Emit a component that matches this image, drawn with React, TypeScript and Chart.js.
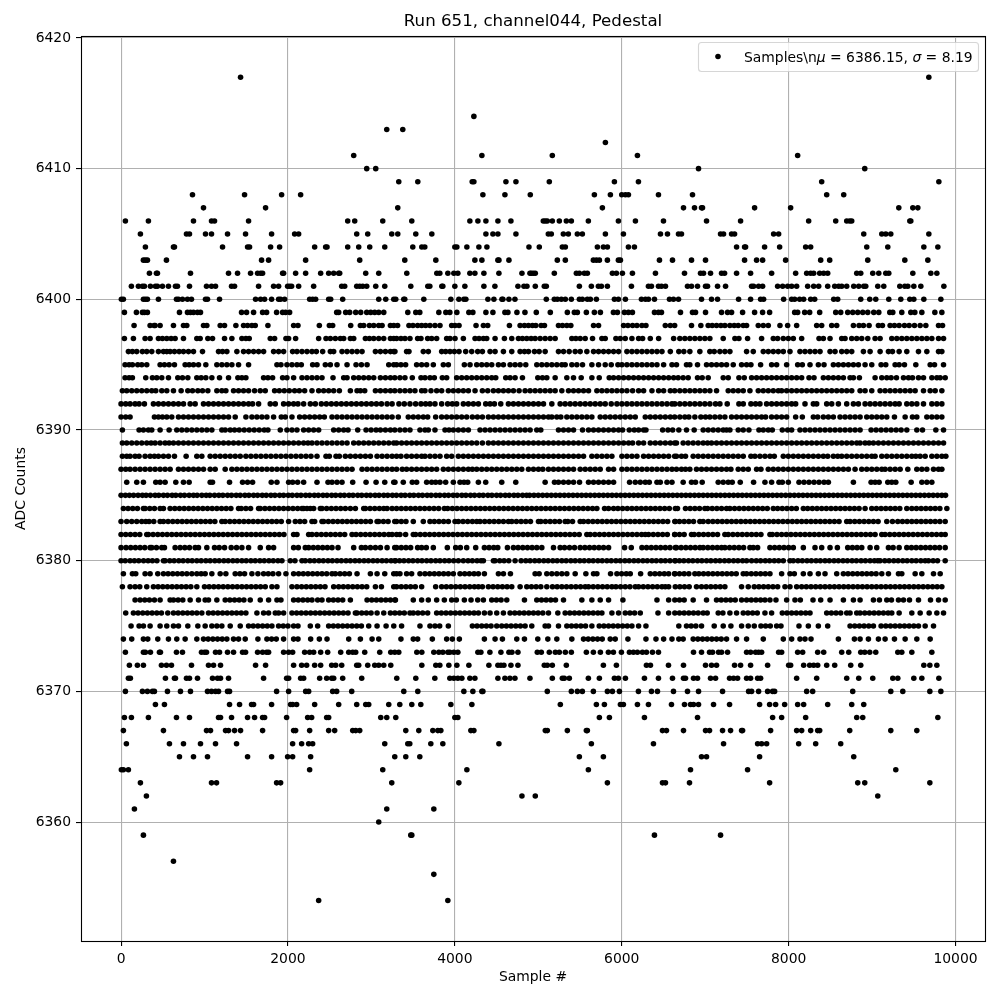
import React, { useEffect, useRef } from "react";
import { Chart, registerables } from "chart.js";

Chart.register(...registerables);

const titleText = "Run 651, channel044, Pedestal";
const xAxisLabel = "Sample #";
const yAxisLabel = "ADC Counts";
const seriesName = "Samples\\n";
const legendMean = " = 6386.15, ";
const legendSigma = " = 8.19";
const xTickValues = [0, 2000, 4000, 6000, 8000, 10000];

// Sample numbers, one list per ADC level. Where dots overlap
// into a solid stretch, individual samples cannot be resolved and are estimated.
const adcLevels = [6417,6414,6413,6412,6411,6410,6409,6408,6407,6406,6405,6404,6403,6402,6401,6400,6399,6398,6397,6396,6395,6394,6393,6392,6391,6390,6389,6388,6387,6386,6385,6384,6383,6382,6381,6380,6379,6378,6377,6376,6375,6374,6373,6372,6371,6370,6369,6368,6367,6366,6365,6364,6363,6362,6361,6360,6359,6357,6356,6354];

const sampleRows = [
[1432,9680],
[4228],
[3184,3376],
[5804],
[2788,4324,5168,6188,8108],
[2944,3052,6920,8912],
[3328,3556,4208,4228,4612,4732,5132,5912,6200,8396,9800],
[856,1480,1924,2152,4336,4600,4904,5672,5864,6000,6044,6080,6440,6848,8456,8660],
[988,1732,3316,5768,6740,6872,6956,6968,7592,8024,9320,9488,9548],
[52,328,868,1084,1120,1528,2716,2800,3136,3484,4180,4276,4372,4516,4672,5060,5084,5108,5168,5252,5336,5396,5600,5960,6164,6500,7016,7424,8240,8564,8696,8732,8756,9452,9464],
[232,784,820,1012,1084,1276,1492,1804,2080,2128,2824,2956,3244,3316,3532,3724,4372,4456,4516,4732,5120,5156,5300,5360,5468,5528,5804,6020,6464,6548,6680,6716,7184,7220,7316,7352,7820,7880,8900,9116,9164,9224,9680],
[292,628,640,1216,1516,1540,1792,1900,2320,2452,2468,2716,2848,2980,3160,3496,3604,3640,4000,4024,4144,4288,4384,4888,5012,5288,5324,5708,5780,5828,6080,6152,7376,7472,7484,7712,7892,8204,8264,8936,9188,9620,9788],
[268,292,316,544,1684,1768,2212,2860,3400,3772,4240,4324,4516,4528,4648,5228,5324,5660,5696,5732,5828,5960,5984,6452,6608,6836,7004,7472,7616,7688,7964,8384,8492,8948,9392,9668],
[340,424,436,832,1288,1396,1552,1636,1672,1696,1936,1948,2092,2212,2392,2488,2548,2608,2620,2932,3088,3424,3784,3820,3916,3988,4036,4180,4240,4348,4528,4804,4900,4916,4940,4964,5192,5456,5492,5552,5588,5888,5936,6008,6128,6404,6752,6944,6980,7064,7196,7232,7376,7544,7796,8084,8216,8264,8300,8372,8420,8468,8816,8864,9008,9080,9164,9200,9488,9704,9776],
[124,208,256,280,352,412,436,496,568,652,676,820,1024,1084,1132,1324,1360,1648,1828,1888,1996,2020,2044,2128,2308,2644,2680,2824,2860,2896,2944,3052,3160,3472,3676,3700,3844,3856,4000,4120,4348,4480,4756,4828,4864,4964,5072,5096,5492,5636,5720,5756,5828,6116,6320,6356,6440,6476,6524,6788,6836,6908,7004,7028,7148,7244,7556,7580,7640,7688,7868,7928,7988,8036,8096,8228,8300,8360,8468,8552,8600,8636,8696,8780,8840,8900,8924,9068,9140,9332,9392,9428,9500,9584,9860],
[4,28,268,292,316,448,664,688,736,796,844,1012,1036,1180,1612,1672,1720,1804,1888,1912,1960,2260,2296,2332,2488,2512,2656,3088,3172,3268,3292,3388,3400,3628,3952,4048,4108,4132,4396,4468,4564,4576,4648,4720,5096,5192,5228,5276,5324,5396,5492,5528,5588,5624,5696,5912,5960,6044,6236,6284,6320,6392,6572,6620,6680,6956,7076,7148,7400,7544,7664,7700,7940,8036,8072,8132,8180,8264,8312,8540,8588,8864,8972,9044,9200,9344,9452,9500,9620,9824],
[40,184,256,280,316,700,796,832,868,916,952,1444,1504,1588,1696,1744,1864,1936,1972,2020,2584,2608,2692,2740,2812,2872,2944,2992,3040,3088,3148,3436,3532,3580,3808,3892,3940,4024,4168,4216,4372,4456,4600,4636,4744,4840,4976,5144,5348,5432,5468,5576,5672,5744,5900,5948,6032,6080,6128,6392,6440,6476,6704,6848,6884,7004,7196,7268,7316,7448,7592,7688,7772,8072,8108,8192,8252,8372,8564,8624,8708,8768,8828,8888,8948,9020,9080,9212,9248,9356,9464,9512,9596,9752,9836],
[156,348,396,408,468,628,748,788,988,1028,1188,1240,1376,1468,1516,1568,1608,1760,2068,2120,2376,2496,2536,2752,2868,2908,2976,3028,3088,3128,3228,3268,3314,3450,3498,3554,3602,3650,3702,3762,3822,3962,4002,4050,4254,4342,4394,4654,4782,4834,4882,4930,4970,5034,5074,5242,5290,5342,5390,5662,5722,6022,6074,6130,6182,6242,6290,6522,6582,6634,6836,6948,7036,7084,7136,7188,7236,7296,7348,7396,7456,7496,7636,7696,7756,7896,7988,8096,8336,8396,8516,8576,8776,8844,8896,8964,9076,9124,9216,9268,9324,9388,9444,9508,9576,9644,9796,9844],
[40,148,288,348,448,496,548,600,648,748,908,948,1040,1096,1240,1328,1448,1496,1536,1788,1840,1976,2008,2092,2368,2456,2508,2568,2628,2668,2748,2788,2928,2976,3028,3088,3148,3228,3268,3302,3354,3402,3462,3554,3594,3674,3722,3782,3902,3942,4002,4102,4242,4290,4342,4382,4482,4594,4682,4762,4810,4862,4914,4962,5022,5082,5142,5202,5402,5450,5502,5562,5650,5762,5802,5930,5982,6042,6122,6202,6250,6342,6442,6622,6696,6756,6816,6876,6936,6996,7056,7216,7356,7404,7508,7676,7816,7868,7936,7996,8056,8156,8364,8416,8496,8636,8676,8756,8816,8876,8948,9036,9096,9236,9296,9356,9416,9476,9536,9596,9656,9716,9796,9856],
[88,136,188,256,308,368,448,508,548,588,640,696,748,808,868,976,1168,1216,1268,1388,1468,1528,1588,1648,1708,1828,1888,1948,2056,2108,2168,2228,2288,2340,2416,2508,2548,2648,2708,2768,2828,2888,3048,3108,3168,3228,3268,3282,3422,3450,3622,3682,3842,3890,3942,3994,4050,4130,4202,4274,4330,4422,4482,4582,4682,4782,4834,4882,4954,5010,5082,5242,5302,5370,5442,5502,5582,5662,5722,5782,5842,5902,5962,6062,6122,6182,6242,6302,6362,6422,6482,6582,6684,6744,6816,6936,7056,7108,7176,7236,7296,7496,7576,7696,7756,7816,7876,7936,8016,8136,8196,8256,8316,8376,8496,8556,8636,8696,8756,8896,8976,9096,9196,9244,9324,9416,9556,9656,9796,9836],
[48,96,136,200,248,308,468,520,576,640,768,816,868,928,1016,1148,1208,1268,1328,1408,1528,1868,1916,1988,2048,2108,2160,2296,2348,2448,2508,2588,2708,2816,2880,2948,3208,3268,3302,3354,3410,3542,3602,3662,3742,3862,3922,4114,4182,4262,4322,4382,4442,4522,4582,4662,4722,4782,4850,4982,5042,5102,5162,5222,5282,5322,5402,5462,5530,5642,5722,5802,5874,5954,6002,6062,6122,6182,6242,6302,6362,6422,6502,6602,6656,6776,6816,6908,7016,7076,7136,7196,7256,7336,7436,7496,7548,7664,7796,7856,7976,8108,8164,8256,8356,8424,8536,8596,8656,8716,8776,8836,8916,8996,9108,9164,9276,9324,9388,9524,9696,9748,9856],
[48,96,136,296,376,428,488,568,680,736,800,908,960,1016,1088,1180,1288,1400,1448,1496,1708,1760,1816,1936,1988,2068,2168,2228,2288,2348,2408,2540,2668,2708,2788,2848,2908,2968,3028,3108,3168,3228,3280,3342,3402,3490,3594,3642,3702,3754,3850,3902,4022,4082,4142,4202,4262,4322,4382,4442,4490,4610,4662,4722,4810,4994,5050,5102,5202,5342,5422,5514,5642,5730,5850,5902,5962,6022,6082,6142,6202,6262,6322,6382,6442,6502,6562,6622,6676,6736,6796,6908,6964,7036,7216,7276,7404,7468,7556,7616,7676,7736,7796,7856,7916,7976,8036,8096,8156,8244,8304,8416,8476,8536,8596,8656,8736,8776,8848,9036,9116,9176,9228,9292,9376,9436,9484,9556,9616,9716,9776,9816,9876],
[16,68,128,188,248,308,368,416,488,548,628,720,800,856,920,976,1040,1148,1208,1256,1348,1408,1468,1528,1600,1668,1728,1840,1896,1956,2016,2080,2136,2200,2288,2368,2428,2488,2548,2616,2748,2828,2868,2920,3048,3108,3168,3228,3280,3342,3402,3462,3522,3602,3642,3714,3782,3842,3922,3982,4042,4102,4162,4242,4330,4394,4462,4522,4582,4642,4702,4770,4842,4902,4962,5022,5082,5142,5202,5282,5362,5422,5482,5542,5602,5702,5762,5822,5882,5942,6002,6062,6130,6202,6262,6362,6442,6502,6582,6634,6696,6756,6816,6876,6936,6996,7056,7136,7276,7336,7396,7456,7536,7636,7696,7756,7816,7876,7916,7976,8036,8096,8156,8216,8276,8336,8396,8456,8516,8576,8636,8696,8756,8856,8916,8996,9096,9156,9216,9276,9336,9396,9456,9516,9616,9696,9756,9836],
[0,56,108,168,216,280,388,448,508,568,628,688,748,828,888,988,1048,1108,1168,1228,1288,1348,1408,1468,1528,1576,1648,1788,1848,1948,2008,2068,2120,2188,2268,2328,2400,2460,2520,2580,2640,2700,2760,2820,2880,2940,3000,3060,3120,3188,3248,3330,3394,3462,3530,3594,3650,3702,3762,3842,3914,3970,4022,4102,4162,4222,4282,4370,4422,4474,4550,4642,4702,4762,4822,4882,4942,5002,5062,5162,5262,5322,5382,5442,5502,5562,5622,5682,5742,5802,5874,5942,6002,6062,6122,6182,6242,6302,6362,6422,6482,6542,6602,6636,6696,6756,6816,6876,6936,6996,7056,7124,7176,7264,7404,7456,7548,7604,7656,7736,7796,7856,7916,7976,8036,8084,8196,8296,8336,8456,8516,8596,8696,8776,8836,8916,8976,9036,9096,9156,9216,9276,9324,9416,9476,9536,9616,9716,9776,9836],
[0,56,108,400,448,496,548,608,688,748,808,868,928,988,1048,1108,1168,1228,1288,1368,1496,1568,1628,1688,1748,1828,1920,1968,2048,2140,2200,2260,2320,2380,2436,2528,2588,2648,2708,2768,2828,2888,2948,3008,3068,3128,3188,3248,3322,3442,3502,3562,3622,3674,3770,3842,3902,3962,4022,4082,4142,4210,4270,4330,4402,4462,4522,4582,4642,4702,4762,4822,4882,4942,5002,5062,5122,5162,5222,5270,5342,5402,5462,5522,5582,5642,5742,5802,5862,5922,5982,6042,6102,6162,6282,6342,6402,6462,6522,6582,6634,6696,6756,6804,6876,6948,7004,7056,7116,7176,7236,7316,7376,7436,7496,7556,7616,7676,7724,7796,7856,7916,7976,8084,8164,8296,8348,8416,8476,8536,8616,8676,8736,8796,8856,8936,8996,9056,9116,9176,9268,9396,9484,9536,9656,9716,9776,9836],
[16,216,268,328,368,468,576,668,728,788,848,908,968,1028,1088,1208,1248,1308,1360,1416,1476,1536,1596,1656,1716,1760,1908,1988,2048,2108,2188,2248,2308,2368,2548,2608,2668,2720,2836,2936,2996,3056,3108,3168,3228,3280,3342,3402,3462,3582,3642,3682,3762,3882,3930,3982,4042,4102,4162,4302,4362,4422,4482,4542,4602,4662,4722,4782,4842,4902,4982,5030,5242,5302,5362,5422,5530,5602,5662,5722,5782,5842,5902,5962,6010,6090,6150,6202,6262,6290,6490,6554,6610,6684,6776,6868,6976,7036,7096,7156,7216,7256,7296,7396,7456,7524,7644,7696,7756,7804,7924,7988,8036,8136,8196,8256,8316,8376,8436,8496,8556,8616,8676,8736,8796,8856,8988,9048,9108,9168,9228,9288,9348,9416,9536,9604,9764,9856],
[16,68,128,188,248,308,360,408,468,528,576,628,688,748,808,868,928,988,1048,1108,1168,1228,1288,1348,1408,1468,1528,1588,1648,1708,1768,1828,1888,1948,2008,2068,2128,2188,2240,2288,2348,2408,2468,2528,2588,2648,2708,2788,2848,2908,2968,3028,3088,3148,3208,3268,3302,3362,3422,3482,3542,3602,3662,3722,3782,3842,3902,3962,4022,4082,4142,4202,4262,4330,4402,4462,4522,4582,4642,4702,4762,4822,4882,4942,5002,5062,5122,5182,5242,5302,5362,5422,5482,5542,5602,5662,5722,5782,5842,5902,5962,6022,6082,6130,6202,6262,6342,6402,6462,6522,6582,6634,6656,6736,6796,6856,6916,6976,7028,7076,7136,7196,7256,7316,7376,7436,7496,7556,7616,7676,7736,7796,7856,7916,7976,8036,8096,8156,8216,8276,8336,8396,8456,8516,8576,8636,8696,8756,8816,8856,8916,8964,9016,9076,9136,9196,9256,9316,9376,9436,9496,9556,9616,9676,9736,9796,9856],
[16,68,108,168,216,288,348,400,448,508,568,640,780,908,968,1068,1128,1188,1248,1308,1368,1428,1496,1556,1616,1676,1736,1796,1856,1916,1976,2036,2096,2156,2216,2276,2348,2456,2496,2576,2616,2688,2748,2808,2868,2928,2988,3068,3128,3188,3248,3302,3354,3422,3482,3542,3602,3642,3702,3762,3822,3902,3962,4042,4102,4162,4222,4282,4342,4402,4462,4522,4582,4642,4702,4762,4822,4882,4942,5002,5062,5122,5182,5242,5302,5362,5422,5482,5542,5642,5702,5762,5822,5882,6002,6062,6122,6182,6262,6322,6382,6442,6502,6562,6634,6656,6716,6764,6856,6916,6976,7036,7096,7156,7216,7276,7336,7396,7456,7548,7596,7656,7716,7776,7828,7936,7996,8056,8116,8176,8236,8296,8356,8416,8468,8536,8588,8636,8696,8756,8816,8876,8936,8996,9036,9116,9176,9236,9296,9356,9416,9476,9524,9576,9636,9716,9776,9836,9884],
[0,56,108,168,228,288,348,408,468,528,588,688,748,808,868,928,988,1068,1128,1248,1328,1388,1448,1508,1568,1628,1688,1748,1808,1868,1928,1988,2048,2108,2168,2228,2288,2348,2408,2468,2528,2588,2648,2708,2768,2888,2948,3008,3068,3128,3188,3248,3302,3370,3422,3482,3542,3602,3662,3722,3782,3862,3922,3982,4042,4102,4162,4210,4262,4322,4382,4442,4502,4562,4622,4682,4742,4802,4882,4942,5002,5054,5122,5182,5242,5302,5362,5422,5502,5562,5622,5682,5742,5842,5902,6002,6062,6122,6182,6242,6302,6362,6422,6482,6542,6602,6656,6716,6764,6816,6896,6956,7016,7076,7136,7196,7256,7308,7396,7456,7516,7616,7668,7756,7816,7876,7936,7996,8056,8116,8176,8236,8296,8356,8416,8476,8536,8596,8656,8716,8796,8876,8936,8996,9056,9116,9156,9216,9276,9336,9428,9536,9596,9656,9736,9796,9836],
[68,188,268,416,468,528,656,748,816,1068,1096,1300,1456,1516,1576,1800,1868,2008,2056,2116,2188,2348,2480,2528,2588,2648,2776,2936,3056,3160,3268,3282,3382,3490,3542,3662,3722,3770,3822,3890,3982,4062,4110,4154,4282,4370,4562,4730,5082,5194,5242,5302,5362,5422,5494,5602,5662,5722,5782,5842,5902,6094,6162,6222,6282,6330,6422,6462,6542,6602,6736,6836,6884,6964,7156,7216,7276,7324,7420,7580,7716,7796,7884,7924,7996,8124,8184,8244,8304,8364,8424,8476,8776,8988,9036,9084,9188,9236,9284,9468,9596,9656,9716],
[0,52,100,150,204,256,300,352,408,452,508,556,612,656,712,760,816,868,912,968,1020,1064,1120,1172,1220,1276,1324,1380,1428,1484,1532,1588,1636,1692,1740,1796,1844,1900,1948,2004,2052,2108,2156,2212,2260,2316,2364,2420,2468,2524,2572,2628,2676,2732,2780,2836,2884,2940,2988,3044,3092,3148,3196,3252,3300,3356,3404,3460,3508,3564,3612,3668,3716,3772,3820,3876,3924,3980,4028,4084,4132,4188,4236,4292,4340,4396,4444,4500,4548,4604,4652,4708,4756,4812,4860,4896,4948,5000,5052,5104,5156,5208,5260,5312,5364,5416,5468,5520,5572,5624,5676,5728,5780,5832,5884,5936,5988,6040,6092,6144,6196,6248,6300,6352,6404,6456,6508,6560,6612,6664,6716,6768,6820,6872,6924,6976,7028,7080,7132,7184,7236,7288,7340,7392,7444,7496,7548,7600,7652,7704,7756,7808,7860,7912,7964,8016,8068,8120,8172,8224,8276,8328,8380,8432,8484,8536,8588,8640,8692,8744,8796,8848,8900,8952,9004,9056,9108,9160,9212,9264,9316,9368,9420,9472,9524,9576,9628,9680,9732,9784,9836,9880],
[28,84,140,196,268,288,344,400,468,508,588,644,700,756,812,868,924,980,1036,1092,1148,1204,1260,1316,1408,1440,1496,1552,1648,1668,1724,1780,1836,1892,1948,2004,2060,2116,2168,2188,2228,2268,2308,2388,2408,2464,2520,2576,2632,2688,2748,2808,2908,2928,2984,3040,3096,3148,3188,3248,3302,3358,3414,3470,3526,3582,3638,3694,3750,3806,3874,3914,3970,4026,4082,4138,4194,4250,4306,4362,4418,4474,4530,4586,4642,4698,4754,4810,4866,4922,4978,5034,5090,5146,5202,5258,5314,5370,5426,5482,5538,5594,5650,5702,5794,5842,5902,5954,6010,6066,6122,6178,6234,6290,6346,6402,6458,6514,6570,6642,6668,6764,6820,6876,6932,6996,7028,7084,7140,7196,7256,7296,7352,7408,7464,7520,7576,7632,7688,7744,7816,7868,7924,7980,8036,8092,8176,8228,8284,8340,8396,8452,8508,8564,8620,8676,8732,8788,8844,8916,8996,9052,9108,9164,9220,9276,9332,9416,9476,9532,9588,9644,9700,9756,9812,9896],
[0,68,128,188,248,296,336,392,468,508,564,620,676,732,788,844,900,956,1012,1068,1124,1208,1248,1304,1360,1416,1472,1528,1584,1640,1696,1752,1808,1864,1920,2008,2088,2144,2200,2288,2320,2408,2428,2484,2540,2596,2652,2708,2764,2820,2876,2932,2988,3068,3088,3144,3200,3280,3302,3358,3414,3502,3622,3702,3754,3810,3866,3922,4002,4042,4098,4154,4210,4262,4302,4358,4414,4470,4526,4582,4642,4682,4738,4794,4850,4906,5002,5030,5086,5142,5198,5254,5322,5354,5410,5502,5542,5598,5654,5710,5766,5822,5878,5934,5990,6046,6102,6158,6214,6270,6326,6382,6438,6494,6550,6642,6636,6692,6748,6804,6860,6936,6976,7036,7092,7148,7204,7260,7316,7372,7428,7484,7540,7596,7652,7708,7764,7820,7876,7932,7988,8044,8100,8156,8212,8268,8324,8380,8436,8492,8548,8604,8696,8736,8792,8848,8904,8960,9016,9072,9176,9244,9308,9364,9420,9476,9532,9588,9644,9700,9756,9812,9876],
[0,56,112,168,224,308,328,384,440,496,552,608,664,720,776,832,888,944,1000,1056,1112,1168,1224,1280,1336,1392,1448,1504,1560,1616,1672,1728,1784,1840,1896,1952,2068,2108,2248,2288,2344,2400,2456,2512,2568,2624,2680,2768,2816,2872,2928,2984,3040,3096,3152,3208,3248,3302,3342,3410,3502,3530,3586,3642,3698,3754,3810,3866,3922,3978,4034,4090,4146,4202,4258,4314,4370,4426,4482,4538,4594,4650,4706,4762,4818,4874,4930,4986,5042,5098,5154,5210,5266,5322,5378,5434,5490,5582,5622,5678,5734,5790,5846,5902,5958,6014,6070,6126,6182,6238,6282,6322,6378,6434,6490,6546,6634,6636,6692,6748,6836,6868,6924,6980,7036,7092,7148,7236,7276,7332,7388,7444,7500,7556,7612,7668,7776,7804,7860,7916,7972,8028,8084,8140,8196,8252,8308,8364,8420,8476,8532,8588,8644,8700,8756,8812,8868,8924,8980,9036,9116,9156,9212,9268,9324,9380,9436,9492,9548,9604,9660,9716,9772,9828,9876],
[0,60,116,172,228,284,348,368,424,488,520,648,708,764,820,888,928,1028,1120,1176,1240,1320,1384,1448,1528,1668,1768,1828,2068,2124,2208,2248,2304,2360,2416,2472,2528,2600,2788,2880,2928,2988,3048,3108,3188,3280,3302,3358,3414,3470,3554,3602,3658,3742,3910,4010,4066,4142,4250,4354,4410,4466,4514,4630,4702,4758,4814,4870,4926,4982,5042,5182,5262,5314,5374,5434,5502,5558,5614,5670,5726,5782,5842,6034,6114,6242,6298,6354,6410,6466,6522,6578,6642,6656,6712,6768,6824,6880,6936,6976,7032,7088,7144,7196,7236,7292,7348,7404,7460,7536,7576,7628,7776,7832,7888,7944,8000,8056,8176,8316,8396,8496,8584,8708,8764,8820,8876,8976,9056,9196,9252,9324,9416,9472,9528,9584,9640,9696,9752,9808,9876],
[0,50,108,160,212,270,324,376,430,508,528,584,636,692,744,800,852,908,960,1016,1068,1124,1176,1232,1284,1340,1392,1448,1500,1556,1608,1664,1716,1772,1824,1880,1928,2028,2084,2168,2208,2264,2316,2372,2424,2480,2532,2588,2640,2696,2748,2804,2856,2912,2964,3020,3072,3128,3180,3236,3288,3282,3338,3390,3446,3498,3554,3606,3662,3714,3770,3822,3878,3930,3986,4042,4102,4158,4210,4266,4314,4342,4462,4482,4538,4590,4646,4722,4794,4850,4902,4958,5010,5066,5118,5174,5226,5282,5334,5390,5442,5498,5550,5606,5658,5714,5766,5822,5874,5930,5982,6038,6090,6146,6198,6254,6306,6362,6414,6470,6522,6578,6642,6636,6692,6744,6800,6852,6908,6960,7016,7068,7124,7176,7232,7284,7340,7392,7448,7496,7556,7612,7664,7720,7772,7828,7880,7936,8016,8056,8112,8164,8220,8272,8328,8380,8436,8488,8544,8596,8652,8704,8760,8812,8868,8920,8976,9028,9068,9096,9152,9204,9260,9312,9368,9420,9476,9528,9584,9636,9676,9732,9784,9876],
[28,136,176,288,348,440,508,564,620,676,732,788,848,908,960,1008,1088,1188,1256,1368,1424,1480,1568,1640,1708,1764,1820,1888,1976,2068,2128,2184,2240,2296,2352,2408,2464,2528,2568,2624,2680,2736,2828,2988,3068,3160,3268,3302,3342,3422,3482,3582,3642,3698,3754,3810,3866,3922,3982,4062,4118,4174,4230,4282,4354,4522,4582,4666,4962,5010,5102,5162,5222,5282,5342,5442,5570,5662,5702,5866,5942,5998,6054,6102,6226,6342,6398,6454,6510,6562,6634,6636,6692,6748,6804,6876,6924,6980,7036,7092,7148,7204,7260,7316,7372,7456,7496,7552,7608,7664,7720,7776,7916,8016,8068,8176,8256,8356,8436,8576,8656,8712,8768,8824,8880,8936,8992,9048,9116,9196,9316,9356,9516,9596,9736,9816],
[16,108,168,224,308,388,444,500,556,612,668,724,780,836,908,1000,1056,1112,1168,1224,1280,1336,1392,1448,1504,1560,1616,1672,1728,1808,1868,2048,2108,2164,2220,2276,2332,2388,2444,2548,2608,2664,2720,2776,2832,2888,2944,3048,3120,3268,3302,3358,3414,3470,3526,3602,3770,3842,3898,3954,4010,4066,4122,4178,4234,4282,4330,4402,4458,4514,4570,4626,4682,4782,4862,4918,4974,5030,5102,5170,5226,5282,5338,5394,5450,5506,5562,5602,5658,5714,5770,5826,5882,5930,5986,6042,6098,6162,6202,6258,6314,6370,6426,6482,6522,6562,6642,6696,6752,6808,6896,6956,7012,7068,7124,7180,7236,7436,7516,7588,7644,7700,7756,7812,7868,7956,8016,8096,8156,8212,8268,8324,8380,8436,8492,8548,8604,8660,8716,8772,8828,8884,8940,8996,9052,9108,9164,9220,9276,9332,9388,9444,9500,9556,9612,9668,9724,9780,9836],
[168,228,284,340,400,468,588,628,684,740,828,928,1008,1048,1148,1248,1304,1360,1416,1472,1548,1668,1768,1868,1916,2068,2124,2180,2236,2288,2356,2408,2488,2544,2600,2656,2748,2948,3004,3060,3116,3172,3228,3288,3282,3502,3602,3682,3782,3874,3962,4018,4114,4194,4274,4342,4442,4498,4554,4622,4834,4982,5038,5094,5150,5206,5302,5522,5642,5742,5842,6014,6422,6562,6636,6692,6748,6856,7016,7136,7192,7248,7304,7360,7436,7496,7552,7608,7664,7716,7776,7848,7976,8076,8140,8292,8384,8496,8656,8776,8856,9016,9088,9176,9232,9316,9376,9448,9556,9700,9796,9876],
[56,148,204,260,316,372,428,484,560,628,684,740,796,852,908,968,1048,1104,1160,1216,1272,1328,1384,1440,1496,1628,1708,1768,1848,1888,1948,2048,2104,2160,2216,2272,2328,2384,2440,2496,2552,2608,2664,2720,2808,2828,2884,2940,2996,3068,3148,3228,3282,3338,3394,3462,3502,3558,3614,3674,3782,3838,3894,3950,4006,4062,4118,4174,4230,4282,4354,4422,4502,4582,4662,4718,4774,4830,4886,4942,4998,5054,5122,5234,5322,5378,5434,5490,5546,5602,5658,5714,5762,5882,5962,6042,6098,6154,6222,6434,6562,6636,6692,6748,6804,6860,6916,6976,7024,7156,7212,7296,7376,7456,7512,7568,7624,7716,7796,7924,7980,8036,8092,8148,8204,8256,8456,8512,8568,8624,8696,8736,8816,8856,8912,8968,9024,9080,9136,9192,9236,9324,9476,9576,9684,9776,9856],
[120,216,268,348,468,548,628,688,800,920,1008,1088,1148,1208,1308,1428,1528,1584,1640,1696,1752,1808,1888,1944,2000,2068,2120,2268,2356,2488,2544,2600,2656,2712,2768,2824,2880,2968,3068,3176,3268,3362,3582,3702,3762,3818,3922,4210,4266,4322,4378,4434,4502,4562,4618,4674,4730,4786,4842,4922,5082,5122,5242,5342,5398,5454,5510,5566,5642,5730,5786,5842,5898,5954,6010,6066,6122,6202,6290,6684,6776,6832,6888,6956,7108,7216,7308,7436,7516,7588,7668,7724,7780,7856,7908,8124,8236,8356,8468,8736,8792,8848,8904,8960,9016,9108,9164,9220,9276,9332,9388,9444,9500,9556,9636,9736],
[28,128,268,320,440,568,668,768,908,988,1044,1100,1156,1212,1268,1348,1408,1488,1640,1748,1804,1860,1948,2068,2120,2272,2376,2468,2728,2868,3008,3088,3354,3502,3554,3730,3902,3970,4054,4354,4482,4570,4742,4834,4994,5114,5222,5402,5542,5598,5654,5710,5766,5862,5922,6074,6290,6410,6502,6602,6684,6736,6856,6912,6968,7024,7080,7136,7192,7256,7376,7496,7696,7936,8036,8136,8196,8268,8596,8788,8856,8956,9076,9156,9268,9396,9536,9696],
[52,268,292,352,460,472,664,736,964,1000,1024,1132,1180,1276,1348,1456,1492,1636,1696,1744,1768,1948,2008,2056,2200,2260,2308,2392,2476,2632,2728,2776,2812,2920,3100,3232,3280,3328,3544,3604,3748,3808,3856,3916,3940,3988,4036,4276,4312,4420,4552,4648,4684,4756,4988,5036,5132,5204,5252,5324,5396,5576,5660,5744,5840,5900,5996,6092,6140,6188,6248,6296,6368,6440,6860,6956,7052,7088,7160,7196,7268,7496,7544,7604,7640,7676,7880,7916,8108,8168,8348,8420,8636,8720,8864,8912,8972,9044,9308,9356,9476,9716],
[100,196,268,484,544,604,844,1048,1108,1192,1612,1732,2068,2164,2224,2320,2392,2524,2572,2644,2824,2848,2956,3040,3088,3148,3232,3604,3772,3820,3928,4024,4168,4408,4516,4552,4588,4672,4756,5072,5108,5168,5336,5780,5936,6296,6344,6560,6740,7004,7076,7136,7352,7424,7544,7748,8000,8024,8180,8252,8300,8348,8456,8552,8744,8864,9620,9692,9776],
[88,112,532,640,652,784,820,916,1096,1156,1192,1288,1708,1984,2008,2152,2188,2380,2464,2524,2548,2656,2884,3304,3532,3760,3940,3988,4036,4084,4180,4240,4516,4600,4660,4720,4900,5168,5288,5312,5372,5600,5732,5912,5960,6044,6272,6440,6608,6740,6764,6860,6908,7064,7124,7292,7340,7388,7496,7544,7628,7664,8096,8336,8696,8840,9008,9248,9308,9500,9596,9800],
[52,256,316,376,400,556,712,832,1036,1084,1132,1168,1276,1300,1864,2008,2212,2248,2536,2584,2764,3388,3556,4108,4216,4324,4336,5108,5396,5468,5528,5660,5828,5888,5972,6200,6356,6428,6620,6788,6920,7208,7520,7556,7640,7748,7808,7832,8216,8288,8768,9224,9368,9692,9824],
[412,520,1300,1420,1564,1588,1804,2032,2056,2104,2320,2608,2824,2932,2968,3208,3340,3484,3592,3952,4204,5264,5696,5792,5984,6020,6188,6320,6596,6752,6824,6860,6920,7100,7292,7652,7772,7844,7952,8108,8180,8468,8756,8900],
[40,124,328,664,820,1168,1192,1324,1516,1600,1696,1720,1984,2236,2284,2464,2488,3112,3184,3292,4000,4036,5732,5852,6272,6908,7808,7916,8204,8816,8888,9788],
[28,508,1024,1072,1252,1288,1360,1432,1696,2068,2092,2260,2488,2560,2776,2812,2860,3412,3568,3736,3796,3832,4192,4228,5084,5108,5348,5576,5588,6488,6536,6740,7004,7052,7208,7304,7436,7448,7784,8096,8156,8264,8348,8372,8732,9224,9536],
[64,580,748,952,1132,1384,2056,2164,2248,2296,3160,3436,3460,3712,3856,4528,5636,6380,7220,7628,7676,7736,8120,8324,8624],
[700,868,1036,1516,1804,1996,2056,2272,3280,3412,3580,5492,5780,6956,7016,7652,8780],
[4,28,88,2260,3136,4144,5600,6824,7508,9284],
[232,1084,1144,1864,1912,3244,4048,5828,6488,6524,6812,7772,8828,8912,9692],
[304,4804,4964,9068],
[160,3184,3748],
[3088],
[268,3472,3484,6392,7184],
[628],
[3748],
[2368,3916],
];

const points = adcLevels.flatMap((level, i) => sampleRows[i].map((sample) => ({ x: sample, y: level })));

const FONT = '"DejaVu Sans"';

const framePlugin = {
  id: "frame",
  afterDraw(chart: any) {
    const { ctx, chartArea: a } = chart;
    ctx.save();
    ctx.strokeStyle = "#000";
    ctx.lineWidth = 1.1;
    ctx.strokeRect(a.left + 0.5, a.top + 0.5, a.right - a.left, a.bottom - a.top);

    ctx.beginPath();
    ctx.roundRect(698.5, 42.5, 280, 29, 3);
    ctx.fillStyle = "rgba(255,255,255,0.8)";
    ctx.fill();
    ctx.strokeStyle = "rgba(204,204,204,0.8)";
    ctx.lineWidth = 1.1;
    ctx.stroke();

    ctx.fillStyle = "#000";
    ctx.beginPath();
    ctx.arc(718, 56.5, 2.78, 0, Math.PI * 2);
    ctx.fill();

    ctx.textBaseline = "alphabetic";
    ctx.textAlign = "left";
    let x = 744;
    const baseline = 61.5;
    const parts: [string, boolean][] = [
      [seriesName, false],
      ["μ", true],
      [legendMean, false],
      ["σ", true],
      [legendSigma, false],
    ];
    for (const [text, italic] of parts) {
      ctx.font = `${italic ? "italic " : ""}13.9px ${FONT}`;
      ctx.fillText(text, x, baseline);
      x += ctx.measureText(text).width;
    }
    ctx.restore();
  },
};

export default function App() {
  const ref = useRef<HTMLCanvasElement | null>(null);
  useEffect(() => {
    const chart = new Chart(ref.current as HTMLCanvasElement, {
      type: "scatter",
      data: {
        datasets: [
          {
            label: "Samples",
            data: points,
            backgroundColor: "#000",
            borderWidth: 0,
            pointRadius: 2.78,
            pointHoverRadius: 2.78,
          },
        ],
      },
      plugins: [framePlugin],
      options: {
        animation: false,
        responsive: false,
        events: [],
        layout: { padding: { left: 0, right: 15, top: 0, bottom: 0 } },
        plugins: {
          legend: { display: false },
          tooltip: { enabled: false },
          title: {
            display: true,
            text: titleText,
            fullSize: false,
            color: "#000",
            font: { family: FONT, size: 16.67, weight: "normal", lineHeight: 1.2 },
            padding: { top: 12, bottom: 4 },
          },
        },
        scales: {
          x: {
            type: "linear",
            min: -480,
            max: 10353,
            afterFit: (s: any) => { s.height = 59; },
            afterBuildTicks: (s: any) => { s.ticks = xTickValues.map((value) => ({ value })); },
            grid: { color: "#b0b0b0", lineWidth: 1.1, tickColor: "#000", tickLength: 5, tickWidth: 1.1 },
            border: { display: false },
            ticks: { color: "#000", padding: 5, maxRotation: 0, autoSkip: false, font: { family: FONT, size: 13.9 }, callback: (v: any) => String(v) },
            title: { display: true, text: xAxisLabel, color: "#000", font: { family: FONT, size: 13.9, lineHeight: 1.2 }, padding: { top: 0, bottom: 14.6 } },
          },
          y: {
            type: "linear",
            min: 6350.9,
            max: 6420.15,
            afterFit: (s: any) => { s.width = 81; },
            grid: { color: "#b0b0b0", lineWidth: 1.1, tickColor: "#000", tickLength: 5, tickWidth: 1.1 },
            border: { display: false },
            ticks: { stepSize: 10, includeBounds: false, color: "#000", padding: 5, font: { family: FONT, size: 13.9 }, callback: (v: any) => String(v) },
            title: { display: true, text: yAxisLabel, color: "#000", font: { family: FONT, size: 13.9, lineHeight: 1.2 }, padding: { top: 12.6, bottom: 0 } },
          },
        },
      },
    } as any);
    return () => chart.destroy();
  }, []);
  return (
    <div style={{ position: "absolute", left: 0, top: 0, width: 1000, height: 1000, background: "#fff" }}>
      <canvas ref={ref} width={1000} height={1000} style={{ display: "block" }} />
    </div>
  );
}
